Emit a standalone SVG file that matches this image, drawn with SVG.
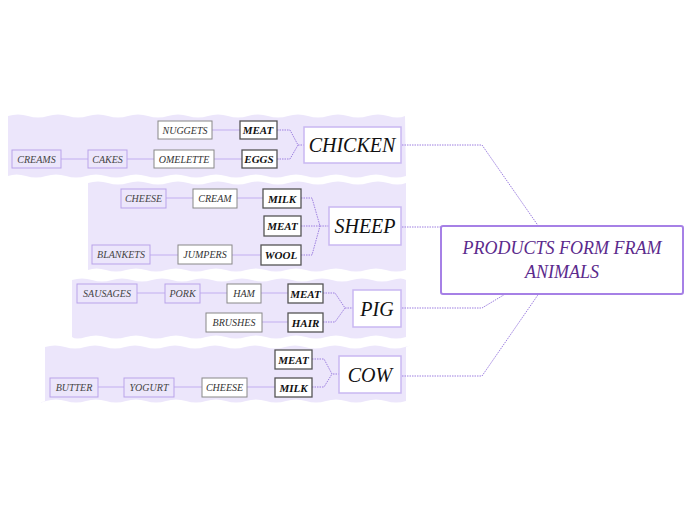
<svg xmlns="http://www.w3.org/2000/svg" width="696" height="520" viewBox="0 0 696 520">
<style>
.band{fill:#ece6fb;stroke:none}
.b1{fill:#fff;stroke:#555;stroke-width:1.3}
.b2{fill:#fff;stroke:#888;stroke-width:1}
.b3{fill:#ece6fb;stroke:#b9a3ea;stroke-width:1}
.ba{fill:#fff;stroke:#c9b8f2;stroke-width:1.5}
.bc{fill:#fff;stroke:#a680e6;stroke-width:2}
text{font-family:"Liberation Serif","DejaVu Serif",serif;font-style:italic;text-anchor:middle;dominant-baseline:central}
.t1{font-size:11px;font-weight:bold;fill:#111}
.t2{font-size:10px;fill:#333}
.t3{font-size:10px;fill:#444}
.ta{font-size:20px;fill:#111}
.tc{font-size:18px;fill:#5b2a8c}
.sol{stroke:#c2aef0;stroke-width:1;fill:none}
.dot{stroke:#9d7fe0;stroke-width:1;stroke-dasharray:1.5 1;fill:none}
</style>
<g id="bands">
<path class="band" d="M8,116 q10,-3 20,0 t20,0 t20,0 t20,0 t20,0 t20,0 t20,0 t20,0 t20,0 t20,0 t20,0 t20,0 t20,0 t20,0 t20,0 t20,0 t20,0 t20,0 t20,0 t17,0 L406,176 q-10,3 -20,0 t-20,0 t-20,0 t-20,0 t-20,0 t-20,0 t-20,0 t-20,0 t-20,0 t-20,0 t-20,0 t-20,0 t-20,0 t-20,0 t-20,0 t-20,0 t-20,0 t-20,0 t-20,0 t-18,0 Z"/>
<path class="band" d="M88,183 q10,-3 20,0 t20,0 t20,0 t20,0 t20,0 t20,0 t20,0 t20,0 t20,0 t20,0 t20,0 t20,0 t20,0 t20,0 t20,0 t18,0 L406,270 q-10,3 -20,0 t-20,0 t-20,0 t-20,0 t-20,0 t-20,0 t-20,0 t-20,0 t-20,0 t-20,0 t-20,0 t-20,0 t-20,0 t-20,0 t-20,0 t-18,0 Z"/>
<path class="band" d="M72,280 q10,-3 20,0 t20,0 t20,0 t20,0 t20,0 t20,0 t20,0 t20,0 t20,0 t20,0 t20,0 t20,0 t20,0 t20,0 t20,0 t20,0 t14,0 L406,337 q-10,3 -20,0 t-20,0 t-20,0 t-20,0 t-20,0 t-20,0 t-20,0 t-20,0 t-20,0 t-20,0 t-20,0 t-20,0 t-20,0 t-20,0 t-20,0 t-20,0 t-14,0 Z"/>
<path class="band" d="M45,347 q10,-3 20,0 t20,0 t20,0 t20,0 t20,0 t20,0 t20,0 t20,0 t20,0 t20,0 t20,0 t20,0 t20,0 t20,0 t20,0 t20,0 t20,0 t20,0 t1,0 L406,401 q-10,3 -20,0 t-20,0 t-20,0 t-20,0 t-20,0 t-20,0 t-20,0 t-20,0 t-20,0 t-20,0 t-20,0 t-20,0 t-20,0 t-20,0 t-20,0 t-20,0 t-20,0 t-20,0 t-1,0 Z"/>
</g>
<g id="connectors">
<path class="dot" d="M402,145 H482 L562,260"/>
<path class="dot" d="M402,227 H450 L562,260"/>
<path class="dot" d="M402,308 H482 L562,260"/>
<path class="dot" d="M402,376 H482 L562,260"/>
<path class="dot" d="M277,130 H290 L298,145 H304 M277,159 H290 L298,145"/>
<path class="sol" d="M212,130 H240 M214,159 H242 M127,159 H154 M61,159 H88"/>
<path class="dot" d="M301,198 H312 L320,226 H329 M301,226 H320 M301,255 H312 L320,226"/>
<path class="sol" d="M237,198 H263 M166,198 H193 M232,255 H261 M150,255 H178"/>
<path class="dot" d="M323,293 H335 L345,308 H353 M323,322 H335 L345,308"/>
<path class="sol" d="M261,293 H288 M200,293 H227 M137,293 H165 M262,322 H288"/>
<path class="dot" d="M312,359 H324 L332,374 H339 M312,387 H324 L332,374"/>
<path class="sol" d="M247,387 H275 M174,387 H202 M98,387 H124"/>
</g>
<g id="central"><rect class="bc" x="441" y="226" width="242" height="68" rx="2"/><text class="tc" x="562" y="248">PRODUCTS FORM FRAM</text><text class="tc" x="562" y="272">ANIMALS</text></g>
<g id="chicken"><rect class="ba" x="304" y="127" width="97" height="36"/><text class="ta" x="352" y="145">CHICKEN</text></g>
<g id="chicken-meat"><rect class="b1" x="240" y="121" width="37" height="18"/><text class="t1" x="258" y="130">MEAT</text></g>
<g id="chicken-eggs"><rect class="b1" x="242" y="150" width="35" height="18"/><text class="t1" x="259" y="159">EGGS</text></g>
<g id="nuggets"><rect class="b2" x="158" y="121" width="54" height="18"/><text class="t2" x="185" y="130">NUGGETS</text></g>
<g id="omelette"><rect class="b2" x="154" y="150" width="60" height="18"/><text class="t2" x="184" y="159">OMELETTE</text></g>
<g id="cakes"><rect class="b3" x="88" y="150" width="39" height="18"/><text class="t3" x="107.5" y="159">CAKES</text></g>
<g id="creams"><rect class="b3" x="12" y="150" width="49" height="18"/><text class="t3" x="36.5" y="159">CREAMS</text></g>
<g id="sheep"><rect class="ba" x="329" y="207" width="72" height="38"/><text class="ta" x="365" y="226">SHEEP</text></g>
<g id="sheep-milk"><rect class="b1" x="263" y="189" width="38" height="19"/><text class="t1" x="282" y="198.5">MILK</text></g>
<g id="sheep-meat"><rect class="b1" x="264" y="216" width="37" height="20"/><text class="t1" x="282.5" y="226">MEAT</text></g>
<g id="sheep-wool"><rect class="b1" x="261" y="245" width="40" height="20"/><text class="t1" x="281" y="255">WOOL</text></g>
<g id="cream"><rect class="b2" x="193" y="189" width="44" height="19"/><text class="t2" x="215" y="198.5">CREAM</text></g>
<g id="sheep-cheese"><rect class="b3" x="121" y="189" width="45" height="19"/><text class="t3" x="143.5" y="198.5">CHEESE</text></g>
<g id="jumpers"><rect class="b2" x="178" y="245" width="54" height="19"/><text class="t2" x="205" y="254.5">JUMPERS</text></g>
<g id="blankets"><rect class="b3" x="92" y="245" width="58" height="19"/><text class="t3" x="121" y="254.5">BLANKETS</text></g>
<g id="pig"><rect class="ba" x="353" y="290" width="48" height="37"/><text class="ta" x="377" y="308.5">PIG</text></g>
<g id="pig-meat"><rect class="b1" x="288" y="284" width="35" height="19"/><text class="t1" x="305.5" y="293.5">MEAT</text></g>
<g id="pig-hair"><rect class="b1" x="288" y="313" width="35" height="19"/><text class="t1" x="305.5" y="322.5">HAIR</text></g>
<g id="ham"><rect class="b2" x="227" y="284" width="34" height="19"/><text class="t2" x="244" y="293.5">HAM</text></g>
<g id="pork"><rect class="b3" x="165" y="284" width="35" height="19"/><text class="t3" x="182.5" y="293.5">PORK</text></g>
<g id="sausages"><rect class="b3" x="77" y="284" width="60" height="19"/><text class="t3" x="107" y="293.5">SAUSAGES</text></g>
<g id="brushes"><rect class="b2" x="206" y="313" width="56" height="19"/><text class="t2" x="234" y="322.5">BRUSHES</text></g>
<g id="cow"><rect class="ba" x="339" y="356" width="62" height="37"/><text class="ta" x="370" y="374.5">COW</text></g>
<g id="cow-meat"><rect class="b1" x="275" y="350" width="37" height="19"/><text class="t1" x="293.5" y="359.5">MEAT</text></g>
<g id="cow-milk"><rect class="b1" x="275" y="378" width="37" height="19"/><text class="t1" x="293.5" y="387.5">MILK</text></g>
<g id="cow-cheese"><rect class="b2" x="202" y="378" width="45" height="19"/><text class="t2" x="224.5" y="387.5">CHEESE</text></g>
<g id="yogurt"><rect class="b3" x="124" y="378" width="50" height="19"/><text class="t3" x="149" y="387.5">YOGURT</text></g>
<g id="butter"><rect class="b3" x="50" y="378" width="48" height="19"/><text class="t3" x="74" y="387.5">BUTTER</text></g>
</svg>
